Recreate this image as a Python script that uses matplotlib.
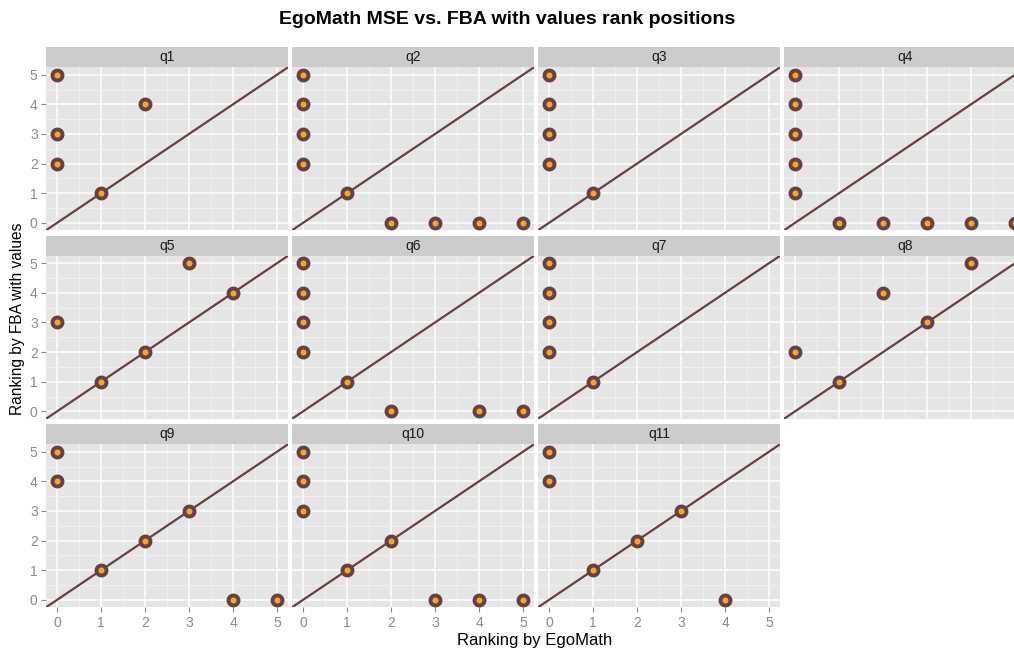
import matplotlib
matplotlib.use("Agg")
import matplotlib.pyplot as plt

plt.rcParams['font.family'] = ['Liberation Sans', 'DejaVu Sans']
plt.rcParams['savefig.bbox'] = 'standard'

# Rank positions per query: x = rank by EgoMath, y = rank by FBA with values
panels = ["q1", "q2", "q3", "q4", "q5", "q6", "q7", "q8", "q9", "q10", "q11"]
egomath_rank = {
    "q1": [0, 0, 0, 1, 2],
    "q2": [0, 0, 0, 0, 1, 2, 3, 4, 5],
    "q3": [0, 0, 0, 0, 1],
    "q4": [0, 0, 0, 0, 0, 1, 2, 3, 4, 5],
    "q5": [0, 1, 2, 3, 4],
    "q6": [0, 0, 0, 0, 1, 2, 4, 5],
    "q7": [0, 0, 0, 0, 1],
    "q8": [0, 1, 2, 3, 4],
    "q9": [0, 0, 1, 2, 3, 4, 5],
    "q10": [0, 0, 0, 1, 2, 3, 4, 5],
    "q11": [0, 0, 1, 2, 3, 4],
}
fba_rank = {
    "q1": [5, 3, 2, 1, 4],
    "q2": [5, 4, 3, 2, 1, 0, 0, 0, 0],
    "q3": [5, 4, 3, 2, 1],
    "q4": [5, 4, 3, 2, 1, 0, 0, 0, 0, 0],
    "q5": [3, 1, 2, 5, 4],
    "q6": [5, 4, 3, 2, 1, 0, 0, 0],
    "q7": [5, 4, 3, 2, 1],
    "q8": [2, 1, 4, 3, 5],
    "q9": [5, 4, 1, 2, 3, 0, 0],
    "q10": [5, 4, 3, 1, 2, 0, 0, 0],
    "q11": [5, 4, 1, 2, 3, 0],
}
ticks = [0, 1, 2, 3, 4, 5]
tick_labels = ["0", "1", "2", "3", "4", "5"]

W, H = 1014, 650
fig = plt.figure(figsize=(W / 100, H / 100), dpi=100)
fig.patch.set_facecolor("white")

BROWN = "#654141"
ORANGE = "#F9A32A"
PANEL_BG = "#E5E5E5"
STRIP_BG = "#CCCCCC"
TICK_GREY = "#8A8A8A"

col_left = [46, 292, 538, 784]
panel_w = 242
strip_top = [47, 235.5, 424]
strip_h = 20.3
panel_h = 163
ncol = 4
nrow = 3


def px_rect(x, y, w, h):
    return [x / W, 1 - (y + h) / H, w / W, h / H]


for i, name in enumerate(panels):
    r, c = divmod(i, ncol)
    x0 = col_left[c]
    st = strip_top[r]
    pt = st + strip_h

    ax = fig.add_axes(px_rect(x0, pt, panel_w, panel_h))
    ax.set_facecolor(PANEL_BG)
    ax.set_xlim(-0.25, 5.25)
    ax.set_ylim(-0.25, 5.25)
    ax.set_xticks(ticks)
    ax.set_yticks(ticks)
    ax.set_xticks([t + 0.5 for t in ticks[:-1]], minor=True)
    ax.set_yticks([t + 0.5 for t in ticks[:-1]], minor=True)
    ax.grid(True, which="major", color="white", linewidth=1.1)
    ax.grid(True, which="minor", color="#F2F2F2", linewidth=0.6)
    ax.set_axisbelow(True)
    for s in ax.spines.values():
        s.set_visible(False)
    ax.tick_params(which="minor", length=0)
    ax.tick_params(which="major", length=3.5, width=0.8, color=TICK_GREY,
                   labelcolor=TICK_GREY, labelsize=10, pad=2.5)

    show_x = (i + ncol) >= len(panels)
    show_y = c == 0
    if show_x and r == nrow - 1:
        ax.set_xticklabels(tick_labels)
    else:
        ax.tick_params(axis="x", length=0, labelbottom=False)
    if show_y:
        ax.set_yticklabels(tick_labels)
    else:
        ax.tick_params(axis="y", length=0, labelleft=False)

    ax.axline((0, 0), slope=1, color=BROWN, linewidth=1.6, zorder=2)
    ax.plot(egomath_rank[name], fba_rank[name], linestyle="none", marker="o",
            markersize=7.2, markerfacecolor=ORANGE, markeredgecolor=BROWN,
            markeredgewidth=2.8, zorder=3, clip_on=False)

    sax = fig.add_axes(px_rect(x0, st, panel_w, strip_h))
    sax.set_facecolor(STRIP_BG)
    sax.set_xticks([])
    sax.set_yticks([])
    for s in sax.spines.values():
        s.set_visible(False)
    sax.text(0.5, 0.5, name, ha="center", va="center", fontsize=10,
             color="#1A1A1A", transform=sax.transAxes)

fig.text(507 / W, 1 - 19 / H, "EgoMath MSE vs. FBA with values rank positions",
         ha="center", va="center", fontsize=14, fontweight="bold", color="black")
fig.text(535 / W, 1 - 641 / H, "Ranking by EgoMath", ha="center", va="center",
         fontsize=12, color="black")
fig.text(18 / W, 1 - 319 / H, "Ranking by FBA with values", ha="center", va="center",
         rotation=90, fontsize=11.2, color="black")

fig.savefig("out.png", dpi=100)
